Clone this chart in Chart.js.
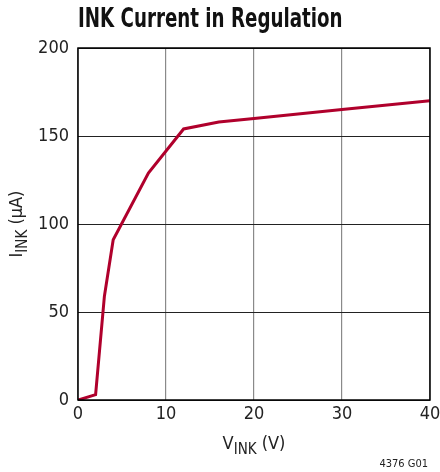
<!DOCTYPE html>
<html>
<head>
<meta charset="utf-8">
<script src="https://cdn.jsdelivr.net/npm/chart.js@4"></script>
<style>
  html, body { margin: 0; padding: 0; background: #fff; }
  #wrap { position: relative; width: 440px; height: 472px; }
</style>
</head>
<body>
<div id="wrap"><canvas id="c" width="440" height="472"></canvas></div>
<script>
(function () {
  'use strict';

  // ── Data ───────────────────────────────────────────────────────
  const vInk = [0, 2, 3, 4, 8, 12, 16, 20, 30, 40];
  const iInk = [0, 3, 59, 91, 129, 154, 158, 160, 165, 170];
  const xTicks = [0, 10, 20, 30, 40];
  const yTicks = [0, 50, 100, 150, 200];

  const FONT = '"DejaVu Sans Condensed", "Liberation Sans", sans-serif';
  const RED = '#b0002c';

  // ── Extra text: title, axis titles with subscripts, figure id ──
  function drawSub(ctx, x, y, parts, align) {
    // parts: [text, isSub]
    let total = 0;
    parts.forEach(p => {
      ctx.font = (p[1] ? '15px ' : '18px ') + FONT;
      total += ctx.measureText(p[0]).width;
    });
    let cx = align === 'center' ? x - total / 2 : x;
    parts.forEach(p => {
      ctx.font = (p[1] ? '15px ' : '18px ') + FONT;
      ctx.fillText(p[0], cx, p[1] ? y + 5 : y);
      cx += ctx.measureText(p[0]).width;
    });
  }

  const labelsPlugin = {
    id: 'labels',
    afterDraw(chart) {
      const ctx = chart.ctx;
      const a = chart.chartArea;
      ctx.save();
      ctx.fillStyle = '#111';
      ctx.textBaseline = 'alphabetic';
      ctx.textAlign = 'left';

      // title is a condensed face in the original, squeeze it a bit
      ctx.save();
      ctx.translate(78, 27);
      ctx.scale(0.78, 1);
      ctx.font = 'bold 26px ' + FONT;
      ctx.fillText('INK Current in Regulation', 0, 0);
      ctx.restore();

      ctx.fillStyle = '#222';
      drawSub(ctx, (a.left + a.right) / 2, 449, [['V', false], ['INK', true], [' (V)', false]], 'center');

      ctx.save();
      ctx.translate(22, (a.top + a.bottom) / 2);
      ctx.rotate(-Math.PI / 2);
      drawSub(ctx, 0, 0, [['I', false], ['INK', true], [' (µA)', false]], 'center');
      ctx.restore();

      ctx.font = '11px ' + FONT;
      ctx.textAlign = 'right';
      ctx.fillText('4376 G01', 428, 467);

      // frame
      ctx.strokeStyle = '#000';
      ctx.lineWidth = 1.5;
      ctx.strokeRect(a.left, a.top, a.right - a.left, a.bottom - a.top);
      ctx.restore();
    }
  };

  // ── Chart ──────────────────────────────────────────────────────
  new Chart(document.getElementById('c'), {
    type: 'line',
    data: {
      datasets: [{
        data: vInk.map((v, i) => ({ x: v, y: iInk[i] })),
        borderColor: RED,
        borderWidth: 3,
        pointRadius: 0,
        tension: 0,
        fill: false,
      }],
    },
    options: {
      responsive: false,
      animation: false,
      devicePixelRatio: 1,
      layout: { padding: { left: 0, top: 48, right: 10, bottom: 0 } },
      plugins: { legend: { display: false }, tooltip: { enabled: false } },
      scales: {
        x: {
          type: 'linear',
          min: 0, max: 40,
          afterFit: s => { s.height = 72; s.paddingLeft = 0; s.paddingRight = 0; },
          afterBuildTicks: s => { s.ticks = xTicks.map(v => ({ value: v })); },
          ticks: { color: '#222', font: { family: FONT, size: 18 }, padding: 4, maxRotation: 0 },
          grid: { color: '#8a8a8a', lineWidth: 1.2, drawTicks: false },
          border: { display: false },
        },
        y: {
          type: 'linear',
          min: 0, max: 200,
          afterFit: s => { s.width = 78; s.paddingTop = 0; s.paddingBottom = 0; },
          afterBuildTicks: s => { s.ticks = yTicks.map(v => ({ value: v })); },
          ticks: { color: '#222', font: { family: FONT, size: 18 }, padding: 9 },
          grid: { color: '#222', lineWidth: 1, drawTicks: false },
          border: { display: false },
        },
      },
    },
    plugins: [labelsPlugin],
  });
})();
</script>
</body>
</html>
